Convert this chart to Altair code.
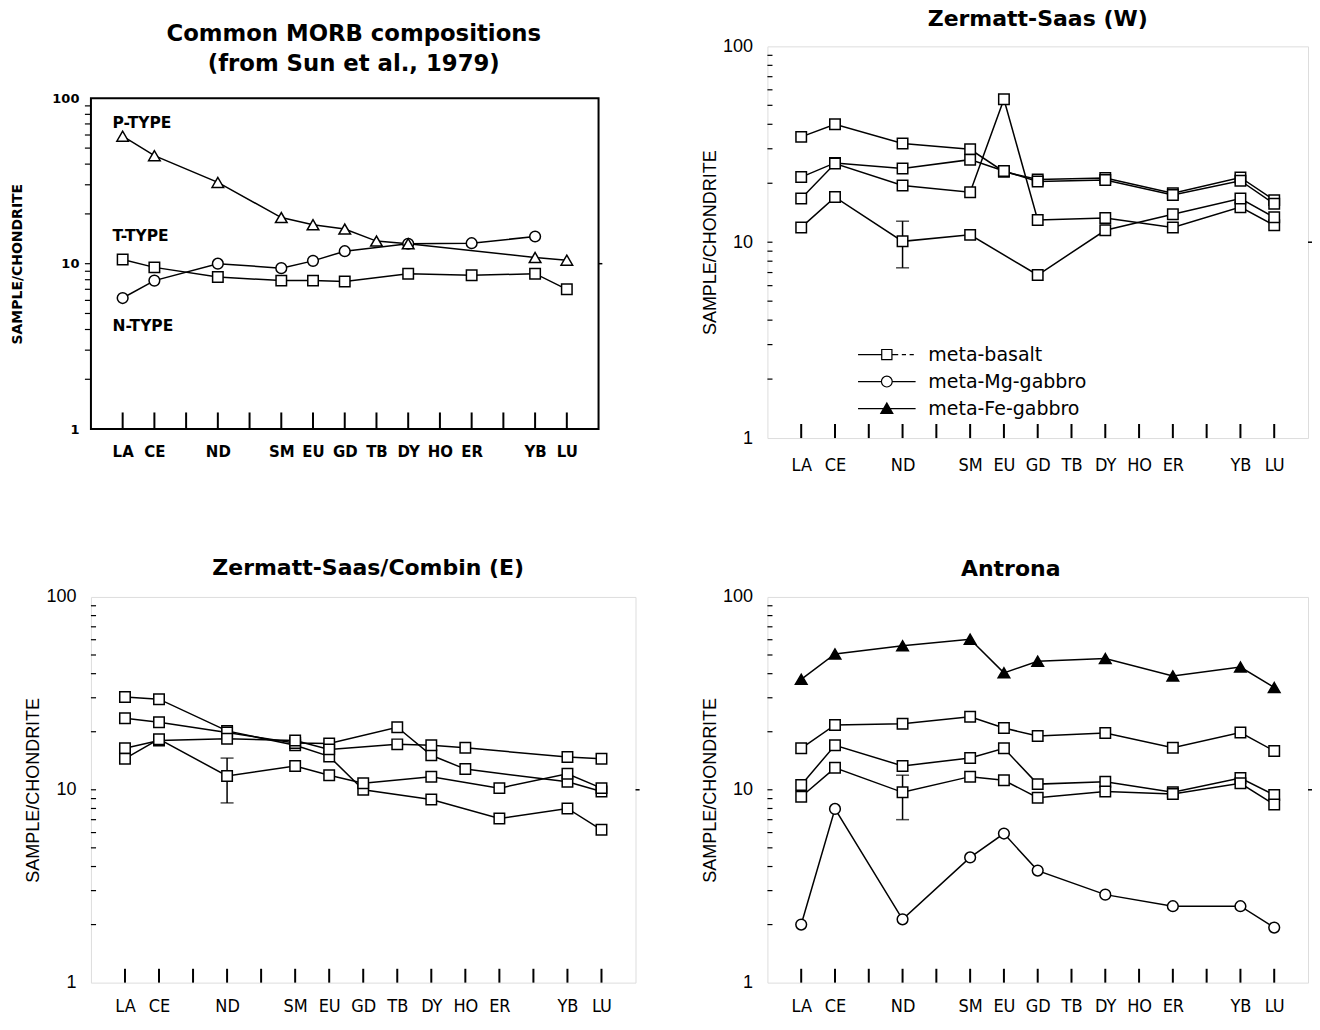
import altair as alt
import pandas as pd

# ---------------- data ----------------
ELEMENTS = ["LA", "CE", "PR", "ND", "PM", "SM", "EU", "GD", "TB", "DY", "HO", "ER", "TM", "YB", "LU"]
LABELED = ["LA", "CE", "ND", "SM", "EU", "GD", "TB", "DY", "HO", "ER", "YB", "LU"]
N = None

# Common MORB compositions (Sun et al., 1979)
MORB_P = [59.0, 45.0, N, 31.0, N, 19.0, 17.2, 16.2, 13.7, 13.2, N, N, N, 10.9, 10.5]
MORB_T = [10.6, 9.5, N, 8.3, N, 7.9, 7.9, 7.8, N, 8.7, N, 8.5, N, 8.7, 7.0]
MORB_N = [6.2, 7.9, N, 10.0, N, 9.4, 10.4, 11.9, N, 13.2, N, 13.3, N, 14.6, N]
MORB_LABELS = ["P-TYPE", "T-TYPE", "N-TYPE"]
MORB_LABEL_POS = [-0.32, -0.32, -0.32]
MORB_LABEL_VAL = [70.5, 14.8, 4.2]

# Zermatt-Saas (W)
ZW_1 = [34.5, 40.0, N, 31.9, N, 29.8, 22.9, 20.9, N, 21.3, N, 17.8, N, 21.4, 16.4]
ZW_2 = [21.5, 25.4, N, 23.8, N, 26.4, 23.1, 20.4, N, 20.8, N, 17.4, N, 20.6, 15.7]
ZW_3 = [16.7, 25.2, N, 19.5, N, 18.0, 53.7, 13.0, N, 13.3, N, 11.9, N, 15.1, 12.2]
ZW_4 = [11.9, 17.0, N, 10.1, N, 10.9, N, 6.8, N, 11.5, N, 13.9, N, 16.7, 13.4]
ZW_ERR = ["ND", 7.4, 12.8]

# Zermatt-Saas/Combin (E)
ZC_1 = [30.3, 29.5, N, 20.2, N, 17.0, 14.9, 10.0, N, 8.9, N, 7.1, N, 8.0, 6.2]
ZC_2 = [23.5, 22.4, N, 19.8, N, 17.5, 17.4, N, 21.1, 15.1, 12.8, N, N, 11.0, 9.8]
ZC_3 = [16.4, 18.0, N, 18.4, N, 18.0, 16.2, N, 17.2, 17.0, 16.5, N, N, 14.8, 14.5]
ZC_4 = [14.5, 18.3, N, 11.8, N, 13.3, 11.9, 10.8, N, 11.7, N, 10.2, N, 12.1, 10.2]
ZC_ERR = ["ND", 8.55, 14.6]

# Antrona
AN_FE = [37.4, 50.6, N, 55.8, N, 60.4, 40.4, 46.4, N, 47.9, N, 38.9, N, 43.3, 33.9]
AN_B1 = [16.4, 21.7, N, 22.0, N, 23.9, 20.9, 19.0, N, 19.7, N, 16.5, N, 19.8, 15.9]
AN_B2 = [10.6, 17.0, N, 13.3, N, 14.6, 16.4, 10.7, N, 11.0, N, 9.7, N, 11.5, 9.4]
AN_B3 = [9.2, 13.0, N, 9.7, N, 11.7, 11.2, 9.1, N, 9.8, N, 9.5, N, 10.8, 8.4]
AN_MG = [2.0, 7.96, N, 2.13, N, 4.46, 5.93, 3.81, N, 2.86, N, 2.49, N, 2.49, 1.93]
AN_ERR = ["ND", 7.0, 11.9]

LEG_LABELS = ["meta-basalt", "meta-Mg-gabbro", "meta-Fe-gabbro"]
Y_TICKS = [1, 10, 100]
Y_MINOR = [2, 3, 4, 5, 6, 7, 8, 9, 20, 30, 40, 50, 60, 70, 80, 90]

# ---------------- helpers ----------------
LABEL_IDX = [ELEMENTS.index(e) for e in LABELED]
LABEL_EXPR = "[" + ",".join("'%s'" % e for e in ELEMENTS) + "][datum.value]"

# legend symbols: a line with the marker in the middle (stroked paths)
SQ_PATH = ("M-4.8,0H-0.85M0.85,0H1.9M2.5,0H3.2M3.8,0H4.5"
           "M-0.85,-0.85H0.85V0.85H-0.85Z")
CI_PATH = ("M-4.8,0H-0.9M0.9,0H4.8"
           "M-0.9,0A0.9,0.9,0,1,0,0.9,0A0.9,0.9,0,1,0,-0.9,0Z")
_hatch = ""
for k in range(10):
    yy = -0.8 + k * 0.17
    w = (yy + 0.95) / 1.75
    _hatch += "M%.3f,%.3fH%.3f" % (-w, yy, w)
TR_PATH = "M-4.8,0H4.8M-1,0.8L0,-0.95L1,0.8Z" + _hatch


def series_df(series):
    rows = []
    for sid, (vals, shape, fill) in enumerate(series):
        for i, v in enumerate(vals):
            if v is not None:
                rows.append({"s": sid, "i": i, "v": v, "shape": shape, "fill": fill})
    return pd.DataFrame(rows)


def make_panel(series, W, H, title, st, err=None, texts=None, legend=False, yrange=None):
    xs = alt.Scale(domain=[-1, 15], nice=False, zero=False)
    if yrange is None:
        ys = alt.Scale(type="log", domain=[1, 100], nice=False)
    else:
        ys = alt.Scale(type="log", domain=[1, 100], nice=False, range=yrange)
    xaxis = alt.Axis(values=LABEL_IDX, labelExpr=LABEL_EXPR, title=None, ticks=False, tickSize=0,
                     domain=False, grid=False, labelFont=st["xfont"], labelFontSize=st["xsize"],
                     labelFontWeight=st["weight"], labelPadding=st["xpad"], labelColor="black",
                     labelAngle=0, labelOverlap=False)
    yaxis = alt.Axis(values=Y_TICKS, format="d", title="SAMPLE/CHONDRITE", ticks=False, tickSize=0,
                     domain=False, grid=False, labelFont=st["yfont"], labelFontSize=st["ysize"],
                     labelFontWeight=st["weight"], labelPadding=st["ypad"], labelColor="black",
                     labelOverlap=False, titleFont=st["tfont"], titleFontSize=st["tsize"],
                     titleFontWeight=st["weight"], titlePadding=st["tpad"], titleColor="black")

    def X(f="i"):
        return alt.X(f + ":Q", scale=xs, axis=xaxis)

    def Y(f="v"):
        return alt.Y(f + ":Q", scale=ys, axis=yaxis)

    layers = []
    if yrange is not None:
        fdf = pd.DataFrame({"i": [-1], "i2": [15], "v": [1], "v2": [100]})
        layers.append(alt.Chart(fdf).mark_rect(filled=False, stroke="black", strokeWidth=2,
                                               fillOpacity=0).encode(
            x=X(), x2=alt.X2("i2"), y=Y(), y2=alt.Y2("v2")))
    tdf = pd.DataFrame({"i": list(range(len(ELEMENTS))), "v": 1.0, "v2": st["xtick"]})
    layers.append(alt.Chart(tdf).mark_rule(color="black", strokeWidth=2).encode(
        x=X(), y=Y(), y2=alt.Y2("v2")))
    mdf = pd.DataFrame({"v": Y_MINOR + [10], "i": st["ytick0"], "i2": st["ytick1"]})
    layers.append(alt.Chart(mdf).mark_rule(color="black", strokeWidth=1.2).encode(
        x=X(), x2=alt.X2("i2"), y=Y()))
    rdf = pd.DataFrame({"v": [10], "i": [15], "i2": [15.12]})
    layers.append(alt.Chart(rdf).mark_rule(color="black", strokeWidth=1.5).encode(
        x=X(), x2=alt.X2("i2"), y=Y()))
    if err is not None:
        ei = ELEMENTS.index(err[0])
        edf = pd.DataFrame({"i": [ei], "v": [err[1]], "v2": [err[2]]})
        layers.append(alt.Chart(edf).mark_rule(color="black", strokeWidth=1.5).encode(
            x=X(), y=Y(), y2=alt.Y2("v2")))
        cdf = pd.DataFrame({"i": [ei, ei], "v": [err[1], err[2]]})
        layers.append(alt.Chart(cdf).mark_tick(color="black", orient="horizontal", size=13,
                                               thickness=1.5).encode(x=X(), y=Y()))
    df = series_df(series)
    layers.append(alt.Chart(df).mark_line(color="black", strokeWidth=1.5).encode(
        x=X(), y=Y(), detail="s:N", order="i:Q"))
    for shape, fill in sorted(set(zip(df["shape"], df["fill"]))):
        sub = df[(df["shape"] == shape) & (df["fill"] == fill)]
        size = {"square": 110, "circle": 115, "triangle-up": 135}[shape]
        layers.append(alt.Chart(sub).mark_point(shape=shape, filled=True, fill=fill, stroke="black",
                                                strokeWidth=1.5, size=size, opacity=1).encode(
            x=X(), y=Y()))
    if texts is not None:
        tx = pd.DataFrame({"i": texts[1], "v": texts[2], "t": texts[0]})
        layers.append(alt.Chart(tx).mark_text(align="left", baseline="middle", font="DejaVu Sans",
                                              fontSize=15.5, fontWeight="bold", color="black").encode(
            x=X(), y=Y(), text="t:N"))
    if legend:
        ldf = pd.DataFrame({"leg": LEG_LABELS})
        layers.append(alt.Chart(ldf).mark_point(filled=False, color="black", size=144, strokeWidth=1.2).encode(
            shape=alt.Shape("leg:N", scale=alt.Scale(domain=LEG_LABELS, range=[SQ_PATH, CI_PATH, TR_PATH]),
                            legend=alt.Legend(
                                title=None, orient="none", legendX=787, legendY=299, padding=0,
                                symbolSize=144, symbolStrokeWidth=1.2, symbolStrokeColor="black",
                                symbolOpacity=1,
                                labelFont="DejaVu Sans", labelFontSize=19, labelColor="black",
                                labelOffset=32, rowPadding=7))
        ).transform_filter("false"))
    ch = alt.layer(*layers).properties(width=W, height=H, title=title)
    if yrange is not None:
        ch = ch.properties(view=alt.ViewBackground(stroke="transparent"))
    return ch


ST1 = dict(xfont="DejaVu Sans", xsize=15, weight="bold", xpad=15, yfont="DejaVu Sans", ysize=13,
           ypad=12, tfont="DejaVu Sans", tsize=14, tpad=27, xtick=1.26, ytick0=-1.19, ytick1=-1.0)
ST2 = dict(xfont="DejaVu Sans Condensed, Liberation Sans Narrow, Liberation Sans", xsize=18,
           weight="normal", xpad=18, yfont="Liberation Sans, Arial", ysize=18, ypad=15,
           tfont="Liberation Sans, Arial", tsize=18, tpad=3, xtick=1.18, ytick0=-1.0, ytick1=-0.85)
ST3 = dict(ST2, xpad=15)

TITLE_FONT = "DejaVu Sans"

t1 = alt.TitleParams("Common MORB compositions", subtitle="(from Sun et al., 1979)", font=TITLE_FONT,
                     fontSize=22.8, fontWeight="bold", color="black",
                     subtitleFont=TITLE_FONT, subtitleFontSize=22.8, subtitleFontWeight="bold",
                     subtitleColor="black", subtitlePadding=7,
                     anchor="middle", frame="group", dx=9, offset=-29)
t2 = alt.TitleParams("Zermatt-Saas (W)", font=TITLE_FONT, fontSize=22, fontWeight="bold", color="black",
                     anchor="middle", frame="group", dx=0, offset=6)
t3 = alt.TitleParams("Zermatt-Saas/Combin (E)", font=TITLE_FONT, fontSize=22, fontWeight="bold",
                     color="black", anchor="middle", frame="group", dx=5, offset=8)
t4 = alt.TitleParams("Antrona", font=TITLE_FONT, fontSize=22, fontWeight="bold", color="black",
                     anchor="middle", frame="group", dx=-27, offset=7)

# top-left view spans the same height as its neighbour; its frame is drawn from the data range
p1 = make_panel([(MORB_P, "triangle-up", "white"), (MORB_T, "square", "white"), (MORB_N, "circle", "white")],
                508, 383, t1, ST1, texts=(MORB_LABELS, MORB_LABEL_POS, MORB_LABEL_VAL), yrange=[383, 52])
p2 = make_panel([(ZW_1, "square", "white"), (ZW_2, "square", "white"), (ZW_3, "square", "white"),
                 (ZW_4, "square", "white")], 541, 392, t2, ST2, err=ZW_ERR, legend=True)
p3 = make_panel([(ZC_1, "square", "white"), (ZC_2, "square", "white"), (ZC_3, "square", "white"),
                 (ZC_4, "square", "white")], 545, 386, t3, ST3, err=ZC_ERR)
p4 = make_panel([(AN_FE, "triangle-up", "black"), (AN_B1, "square", "white"), (AN_B2, "square", "white"),
                 (AN_B3, "square", "white"), (AN_MG, "circle", "white")], 541, 386, t4, ST3, err=AN_ERR)

left = alt.vconcat(p1, p3, spacing=168, bounds="flush")
right = alt.vconcat(p2, p4, spacing=159, bounds="flush")

chart = alt.hconcat(left, right, spacing=59).properties(
    padding={"left": 2, "top": -1, "right": -2, "bottom": -1}
).configure_view(stroke="black", strokeWidth=2).configure(background="white")

chart.save("out.html", embed_options={"renderer": "svg", "actions": False})
